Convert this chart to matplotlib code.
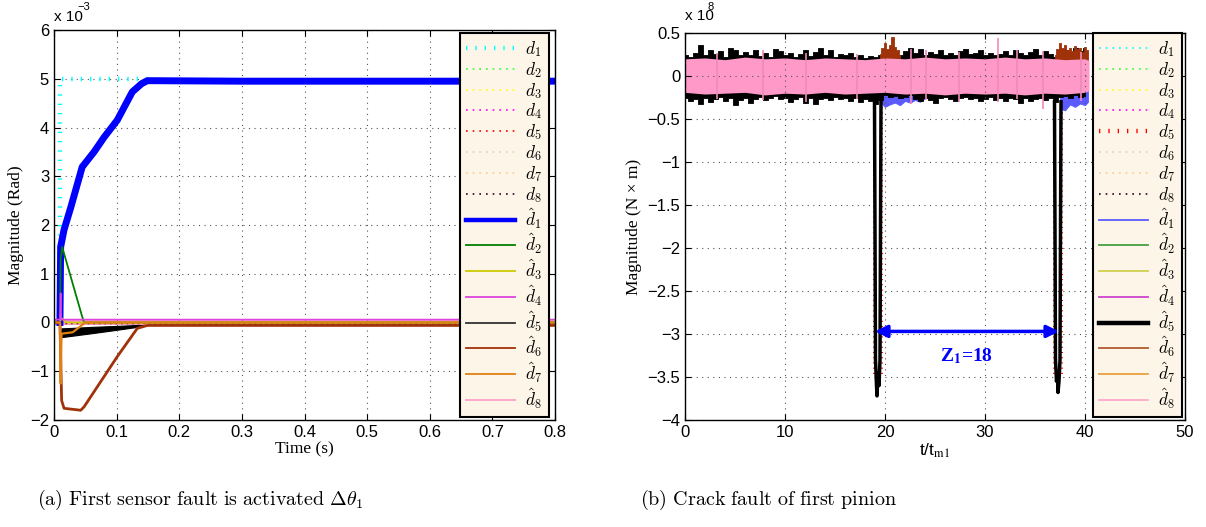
import numpy as np
import matplotlib
matplotlib.use("Agg")
import matplotlib.pyplot as plt
from matplotlib.lines import Line2D

plt.rcParams['mathtext.fontset'] = 'cm'
plt.rcParams['font.family'] = ['Liberation Sans', 'DejaVu Sans']

# ---------------- panel (a): sensor fault, values in 1e-3 rad ----------------
t_zero_a = [0.0, 0.8]
v_zero_a = [0.0, 0.0]

t_d1 = [0.0, 0.0095, 0.0095, 0.16]
v_d1 = [0.0, 0.0, 5.0, 5.0]

t_hat1 = [0.0095, 0.0106, 0.016, 0.027, 0.045, 0.064, 0.08, 0.101, 0.125, 0.14, 0.149, 0.16, 0.3, 0.5, 0.8]
v_hat1 = [0.0, 1.55, 1.9, 2.37, 3.19, 3.5, 3.8, 4.15, 4.73, 4.9, 4.96, 4.96, 4.95, 4.95, 4.95]

t_hat2 = [0.0095, 0.0106, 0.013, 0.045, 0.048, 0.8]
v_hat2 = [0.0, 1.3, 1.55, 0.12, 0.0, 0.0]

t_hat3 = [0.0, 0.0095, 0.011, 0.02, 0.8]
v_hat3 = [0.0, 0.0, 0.1, 0.0, 0.0]

t_hat4 = [0.0, 0.0095, 0.0106, 0.0115, 0.8]
v_hat4 = [0.06, 0.06, 0.6, 0.06, 0.06]

t_hat5 = [0.012, 0.03, 0.06, 0.1, 0.133, 0.15]
v_hat5_hi = [-0.12, -0.11, -0.09, -0.07, -0.05, -0.03]
v_hat5_lo = [-0.30, -0.27, -0.22, -0.15, -0.09, -0.05]

t_hat6 = [0.0, 0.0095, 0.0122, 0.016, 0.0426, 0.048, 0.101, 0.133, 0.149, 0.17, 0.8]
v_hat6 = [0.0, 0.0, -1.6, -1.76, -1.8, -1.73, -0.70, -0.12, -0.06, -0.06, -0.06]

t_hat7 = [0.0, 0.0095, 0.0106, 0.012, 0.03, 0.05, 0.8]
v_hat7 = [0.0, 0.0, -1.25, -0.23, -0.2, 0.0, 0.0]

t_hat8 = [0.0, 0.8]
v_hat8_hi = [0.07, 0.07]
v_hat8_lo = [-0.06, -0.06]

# ---------------- panel (b): crack fault, values in 1e8 N*m ----------------
t_env = np.arange(0, 40.5, 0.5)
black_hi = [0.25, 0.22, 0.27, 0.36, 0.24, 0.30, 0.26, 0.29, 0.22, 0.33, 0.30, 0.24, 0.28, 0.25,
            0.30, 0.23, 0.27, 0.22, 0.31, 0.29, 0.24, 0.27, 0.22, 0.26, 0.30, 0.23, 0.28, 0.33,
            0.25, 0.30, 0.22, 0.26, 0.24, 0.27, 0.22, 0.24, 0.21, 0.23, 0.22, 0.25, 0.28, 0.30,
            0.27, 0.25, 0.29, 0.33, 0.27, 0.31, 0.24, 0.28, 0.26, 0.30, 0.25, 0.27, 0.24, 0.29,
            0.31, 0.26, 0.27, 0.30, 0.25, 0.27, 0.24, 0.26, 0.29, 0.25, 0.30, 0.27, 0.24, 0.28,
            0.31, 0.25, 0.29, 0.26, 0.22, 0.27, 0.30, 0.28, 0.32, 0.29, 0.33]
black_lo = [-0.26, -0.29, -0.27, -0.33, -0.25, -0.30, -0.27, -0.24, -0.29, -0.26, -0.34, -0.28,
            -0.25, -0.31, -0.27, -0.24, -0.28, -0.26, -0.23, -0.27, -0.25, -0.30, -0.27, -0.24,
            -0.31, -0.26, -0.33, -0.27, -0.25, -0.28, -0.24, -0.27, -0.25, -0.29, -0.26, -0.30,
            -0.27, -0.29, -0.33, -0.28, -0.22, -0.24, -0.23, -0.25, -0.24, -0.22, -0.27, -0.29,
            -0.25, -0.28, -0.31, -0.26, -0.24, -0.27, -0.29, -0.26, -0.24, -0.27, -0.25, -0.29,
            -0.27, -0.24, -0.28, -0.26, -0.29, -0.25, -0.27, -0.31, -0.26, -0.29, -0.27, -0.25,
            -0.28, -0.26, -0.30, -0.24, -0.23, -0.25, -0.22, -0.24, -0.23]

t_pink = [0, 2, 4, 6, 8, 10, 12, 14, 16, 18, 20, 22, 24, 26, 28, 30, 32, 34, 36, 38, 40, 40.4]
pink_hi = [0.20, 0.21, 0.19, 0.22, 0.20, 0.21, 0.19, 0.21, 0.20, 0.19, 0.21, 0.20, 0.22, 0.20,
           0.21, 0.20, 0.22, 0.20, 0.21, 0.19, 0.20, 0.18]
pink_lo = [-0.19, -0.21, -0.20, -0.19, -0.22, -0.20, -0.21, -0.19, -0.21, -0.20, -0.19, -0.21,
           -0.20, -0.22, -0.20, -0.21, -0.20, -0.22, -0.20, -0.21, -0.19, -0.17]
pink_spike_t = [3.2, 7.8, 12.1, 17.2, 22.6, 24.1, 27.4, 31.3, 33.2, 35.8, 39.6]
pink_spike_hi = [0.27, 0.30, 0.27, 0.26, 0.31, 0.30, 0.28, 0.44, 0.30, 0.29, 0.28]
pink_spike_lo = [-0.27, -0.28, -0.30, -0.27, -0.33, -0.28, -0.30, -0.30, -0.27, -0.38, -0.29]

t_brown1 = [19.5, 19.75, 20.0, 20.25, 20.5, 20.75, 21.0, 21.25, 21.5]
brown1_hi = [0.26, 0.33, 0.38, 0.31, 0.36, 0.45, 0.34, 0.30, 0.25]
t_brown2 = [37.0, 37.25, 37.5, 37.75, 38.0, 38.25, 38.5, 38.75, 39.0, 39.25, 39.5, 39.75, 40.0, 40.25]
brown2_hi = [0.25, 0.31, 0.38, 0.33, 0.36, 0.30, 0.33, 0.29, 0.35, 0.31, 0.32, 0.28, 0.34, 0.30]

t_blue1 = [19.5, 20.0, 20.5, 21.0, 21.5, 22.0, 22.5, 23.0, 23.5, 24.0]
blue1_lo = [-0.30, -0.36, -0.33, -0.31, -0.34, -0.29, -0.31, -0.28, -0.30, -0.26]
t_blue2 = [37.5, 38.0, 38.5, 39.0, 39.5, 40.0, 40.3]
blue2_lo = [-0.38, -0.40, -0.33, -0.36, -0.32, -0.34, -0.30]

t_spike1 = [18.95, 19.05, 19.15, 19.2, 19.3, 19.4, 19.5, 19.6]
v_spike1 = [-0.30, -3.30, -3.60, -3.72, -3.45, -3.60, -3.30, -0.30]
t_spike2 = [36.95, 37.05, 37.15, 37.25, 37.3, 37.4, 37.5, 37.6]
v_spike2 = [-0.30, -3.30, -3.55, -3.45, -3.68, -3.55, -3.30, -0.30]

t_d5 = [18.9, 18.9, np.nan, 19.65, 19.65, np.nan, 36.9, 36.9, np.nan, 37.65, 37.65]
v_d5 = [-0.3, -3.5, np.nan, -0.3, -3.5, np.nan, -0.3, -3.5, np.nan, -0.3, -3.5]

z_from, z_to, z_level = 19.0, 37.4, -2.97

# styles
d_cols = ['#00ffff', '#33ff33', '#ffff00', '#ff00ff', '#ff0000', '#d9d2c4', '#ffc890', '#300030']
h_cols = ['#0000ff', '#008000', '#cccc00', '#dd44dd', '#333333', '#a0320a', '#e08010', '#ffa0c8']
h_cols_b = ['#5a5aff', '#44a044', '#d0d050', '#cc44cc', '#000000', '#b05a30', '#e8a040', '#ffa8cc']
pink = '#ff99c8'
legend_bg = '#fdf5e8'


def legend_handles(big_d, big_h, hcols):
    hs = []
    for i in range(8):
        if i == big_d:
            hs.append(Line2D([], [], color=d_cols[i], lw=3.2, linestyle=(0, (0.3, 1.8))))
        else:
            hs.append(Line2D([], [], color=d_cols[i], lw=1.2, linestyle=(0, (1, 3))))
    for i in range(8):
        hs.append(Line2D([], [], color=hcols[i], lw=3.2 if i == big_h else 1.3))
    labels = [r'$d_{%d}$' % (i + 1) for i in range(8)] + [r'$\hat{d}_{%d}$' % (i + 1) for i in range(8)]
    return hs, labels


def style_axes(ax):
    ax.tick_params(direction='in', top=True, right=True, labelsize=12, length=4)
    ax.grid(True, linestyle=(0, (1, 4)), color='#555555', linewidth=0.8)
    for s in ax.spines.values():
        s.set_linewidth(1.0)


def add_legend(ax, hs, labs, anchor):
    lg = ax.legend(hs, labs, loc='upper right', bbox_to_anchor=anchor, fontsize=12.5,
                   labelspacing=0.05, handlelength=2.8, handletextpad=0.6, borderpad=0.35,
                   borderaxespad=0, fancybox=False, framealpha=1, edgecolor='black',
                   facecolor=legend_bg)
    lg.get_frame().set_linewidth(1.5)
    return lg


fig = plt.figure(figsize=(12.06, 5.27), dpi=100)
ax1 = fig.add_axes([54 / 1206, 107 / 527, 501 / 1206, 390 / 527])
ax2 = fig.add_axes([685 / 1206, 107 / 527, 500 / 1206, 387 / 527])

# ---- panel (a)
for i in range(1, 8):
    ax1.plot(t_zero_a, v_zero_a, color=d_cols[i], lw=1, linestyle=(0, (1, 3)))
ax1.plot(t_d1, v_d1, color=d_cols[0], lw=3.2, linestyle=(0, (0.3, 1.8)))
ax1.plot(t_hat1, v_hat1, color=h_cols[0], lw=5)
ax1.plot(t_hat2, v_hat2, color=h_cols[1], lw=1.3)
ax1.plot(t_hat3, v_hat3, color=h_cols[2], lw=1.3)
ax1.plot(t_hat4, v_hat4, color=h_cols[3], lw=1.2)
ax1.fill_between(t_hat5, v_hat5_lo, v_hat5_hi, color='black', lw=0.8)
ax1.plot(t_hat6, v_hat6, color=h_cols[5], lw=2)
ax1.plot(t_hat7, v_hat7, color=h_cols[6], lw=1.6)
ax1.fill_between(t_hat8, v_hat8_lo, v_hat8_hi, color=pink, lw=0)

ax1.set_xlim(0, 0.8)
ax1.set_ylim(-2, 6)
ax1.set_xticks(np.arange(0, 0.81, 0.1))
ax1.set_xticklabels(['0', '0.1', '0.2', '0.3', '0.4', '0.5', '0.6', '0.7', '0.8'])
ax1.set_yticks(range(-2, 7))
ax1.set_yticklabels(['\u22122', '\u22121', '0', '1', '2', '3', '4', '5', '6'])
style_axes(ax1)
ax1.set_xlabel('Time (s)', family='Liberation Serif', fontsize=12.5, labelpad=1)
ax1.set_ylabel('Magnitude (Rad)', family='Liberation Serif', fontsize=12.5, labelpad=4)
ax1.text(0.0, 1.015, 'x 10', transform=ax1.transAxes, fontsize=11, va='bottom')
ax1.text(0.046, 1.045, '\u22123', transform=ax1.transAxes, fontsize=8, va='bottom')

hs, labs = legend_handles(0, 0, h_cols)
add_legend(ax1, hs, labs, (1 - 6 / 501, 1 - 3 / 390))

# ---- panel (b)
ax2.plot(t_d5, v_d5, color=d_cols[4], lw=1.5, linestyle=(0, (0.5, 2)))
ax2.fill_between(t_blue1, blue1_lo, 0, color=h_cols_b[0], lw=0.6)
ax2.fill_between(t_blue2, blue2_lo, 0, color=h_cols_b[0], lw=0.6)
ax2.fill_between(t_env, black_lo, black_hi, step='mid', color='black', lw=0.6)
ax2.plot(t_spike1, v_spike1, color='black', lw=2.5)
ax2.plot(t_spike2, v_spike2, color='black', lw=2.5)
ax2.fill_between(t_brown1, 0, brown1_hi, step='mid', color=h_cols[5], lw=0.6)
ax2.fill_between(t_brown2, 0, brown2_hi, step='mid', color=h_cols[5], lw=0.6)
ax2.fill_between(t_pink, pink_lo, pink_hi, color=pink, lw=0)
ax2.vlines(pink_spike_t, pink_spike_lo, pink_spike_hi, color='#f08ab8', lw=1.2)

ax2.annotate('', xy=(z_from, z_level), xytext=(z_to, z_level),
             arrowprops=dict(arrowstyle='<|-|>', color='#0000ff', lw=2.5,
                             mutation_scale=18, shrinkA=0, shrinkB=0))
ax2.text((z_from + z_to) / 2, z_level - 0.17, r'Z$_{\mathbf{1}}$=18', color='#0000ff',
         family='Liberation Serif', weight='bold', fontsize=14, ha='center', va='top',
         math_fontfamily='stix')

ax2.set_xlim(0, 50)
ax2.set_ylim(-4, 0.5)
ax2.set_xticks(range(0, 51, 10))
ax2.set_yticks(np.arange(-4, 0.51, 0.5))
ax2.set_yticklabels(['\u22124', '\u22123.5', '\u22123', '\u22122.5', '\u22122', '\u22121.5',
                     '\u22121', '\u22120.5', '0', '0.5'])
style_axes(ax2)
ax2.set_xlabel(r't/t$_{\mathrm{m1}}$', fontsize=12.5, labelpad=1, math_fontfamily='stix')
ax2.set_ylabel('Magnitude (N \u00d7 m)', family='Liberation Serif', fontsize=12.5, labelpad=4)
ax2.text(0.0, 1.025, 'x 10', transform=ax2.transAxes, fontsize=11, va='bottom')
ax2.text(0.046, 1.055, '8', transform=ax2.transAxes, fontsize=8, va='bottom')

hs, labs = legend_handles(4, 4, h_cols_b)
add_legend(ax2, hs, labs, (1 - 3 / 500, 1.0))

# captions
fig.text(200 / 1206, 27 / 527, r'$\mathrm{(a)\ First\ sensor\ fault\ is\ activated\ }\Delta\theta_1$',
         fontsize=14.5, ha='center', va='center')
fig.text(769 / 1206, 27 / 527, r'$\mathrm{(b)\ Crack\ fault\ of\ first\ pinion}$',
         fontsize=14.5, ha='center', va='center')

fig.savefig('out.png', dpi=100)
